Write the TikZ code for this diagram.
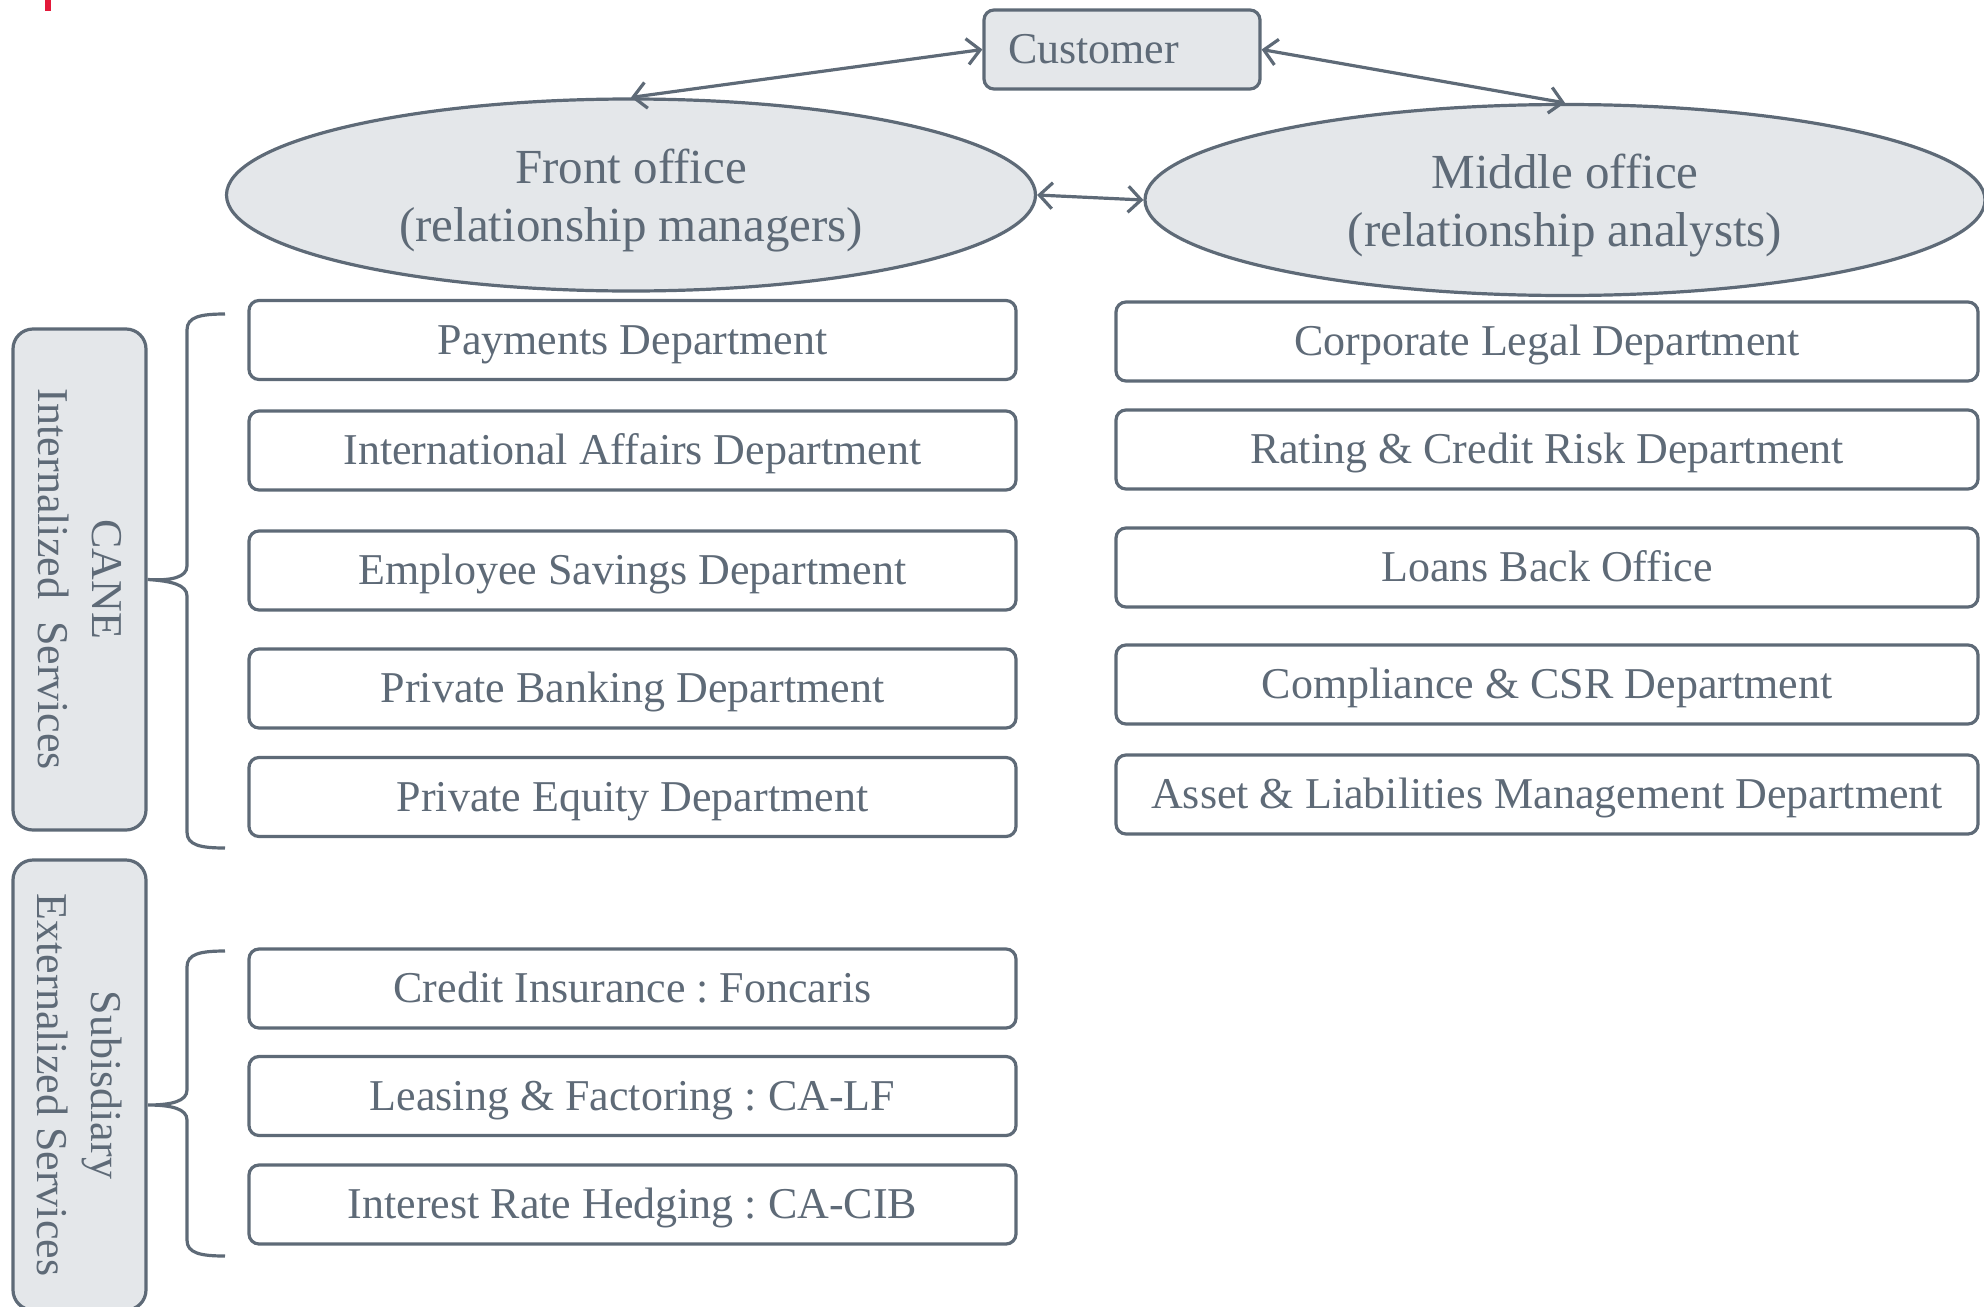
\documentclass[tikz,border=0pt]{standalone}
\usepackage{fontspec}
\setmainfont{Liberation Serif}
\frenchspacing
\usetikzlibrary{positioning,shapes.geometric,arrows.meta}

\definecolor{slate}{HTML}{5E6A77}
\definecolor{mist}{HTML}{E4E7EA}
\definecolor{redmark}{HTML}{E3193A}

\tikzset{
	dept/.style={rectangle, draw=slate, line width=1.6pt, rounded corners=5pt, text=slate, inner sep=0pt, minimum height=39.5pt, text height=19pt, text depth=5pt, font=\fontsize{22}{26}\selectfont},
	leftdept/.style={dept, minimum width=383.5pt},
	rightdept/.style={dept, minimum width=431pt},
	office/.style={ellipse, draw=slate, fill=mist, line width=1.6pt, text=slate, align=center, inner sep=0pt, font=\fontsize{24.5}{29}\selectfont},
	custbox/.style={rectangle, draw=slate, fill=mist, line width=1.6pt, rounded corners=5pt, text=slate, text width=114pt, align=left, inner xsep=12pt, inner ysep=0pt, minimum height=39.5pt, font=\fontsize{22}{26}\selectfont},
	sidebox/.style={rectangle, draw=slate, fill=mist, line width=1.6pt, rounded corners=10pt, text=slate, align=center, inner sep=0pt, rotate=-90, minimum height=66.5pt, font=\fontsize{22}{27}\selectfont},
	link/.style={{Straight Barb[length=6.5pt,width=13pt]}-{Straight Barb[length=6.5pt,width=13pt]}, draw=slate, line width=1.6pt},
	bracket/.style={draw=slate, line width=1.6pt},
}

\begin{document}
\begin{tikzpicture}[x=0.5pt, y=-0.5pt]

	\useasboundingbox (0,0) rectangle (1984,1306);
	\fill[redmark] (45,0) rectangle (51,11);

	%%% Offices %%%
	\node[custbox] (cust) at (1122,49.5) {Customer};
	\node[office, minimum width=404.5pt, minimum height=96pt] (front) at (631,195) {\rule{0pt}{22.5pt}Front office\\(relationship managers)};
	\node[office, minimum width=420pt, minimum height=95.5pt] (middle) at (1565,200) {\rule{0pt}{23pt}Middle office\\(relationship analysts)};

	\draw[link] (cust.west) -- (front.north);
	\draw[link] (cust.east) -- (middle.north);
	\draw[link] (front.east) -- (middle.west);

	%%% Front office departments %%%
	\node[leftdept] (pay) at (632.5,340) {Payments Department};
	\node[leftdept, below=14.15pt of pay] (intl) {International Affairs Department};
	\node[leftdept, below=18.9pt of intl] (savings) {Employee Savings Department};
	\node[leftdept, below=17.9pt of savings] (privbank) {Private Banking Department};
	\node[leftdept, below=13.15pt of privbank] (privequity) {Private Equity Department};

	\node[leftdept] (credit) at (632.5,988.5) {Credit Insurance : Foncaris};
	\node[leftdept, below=12.65pt of credit] (leasing) {Leasing \& Factoring : CA-LF};
	\node[leftdept, below=13.15pt of leasing] (hedging) {Interest Rate Hedging : CA-CIB};

	%%% Middle office departments %%%
	\node[rightdept] (legal) at (1547,341.5) {Corporate Legal Department};
	\node[rightdept, below=12.9pt of legal] (rating) {Rating \& Credit Risk Department};
	\node[rightdept, below=17.9pt of rating] (loans) {Loans Back Office};
	\node[rightdept, below=17.4pt of loans] (compliance) {Compliance \& CSR Department};
	\node[rightdept, below=13.9pt of compliance] (alm) {Asset \& Liabilities Management Department};

	%%% Side labels %%%
	\node[sidebox, minimum width=250.5pt] (cane) at (79.5,579.5) {CANE\\Internalized\ \ Services};
	\node[sidebox, minimum width=225pt] (subsid) at (79.5,1085) {Subisdiary\\Externalized Services};

	\coordinate (subtip) at (148,1105);

	\draw[bracket] (225,314) .. controls (200,314) and (187,317) .. (187,330) -- (187,566)
		.. controls (187,577) and (172,581) .. (cane.north)
		.. controls (172,581) and (187,585) .. (187,596) -- (187,832)
		.. controls (187,845) and (200,848) .. (225,848);
	\draw[bracket] (225,951) .. controls (200,951) and (187,954) .. (187,967) -- (187,1090)
		.. controls (187,1101) and (172,1105) .. (subtip)
		.. controls (172,1105) and (187,1109) .. (187,1120) -- (187,1240)
		.. controls (187,1253) and (200,1256) .. (225,1256);

\end{tikzpicture}
\end{document}
